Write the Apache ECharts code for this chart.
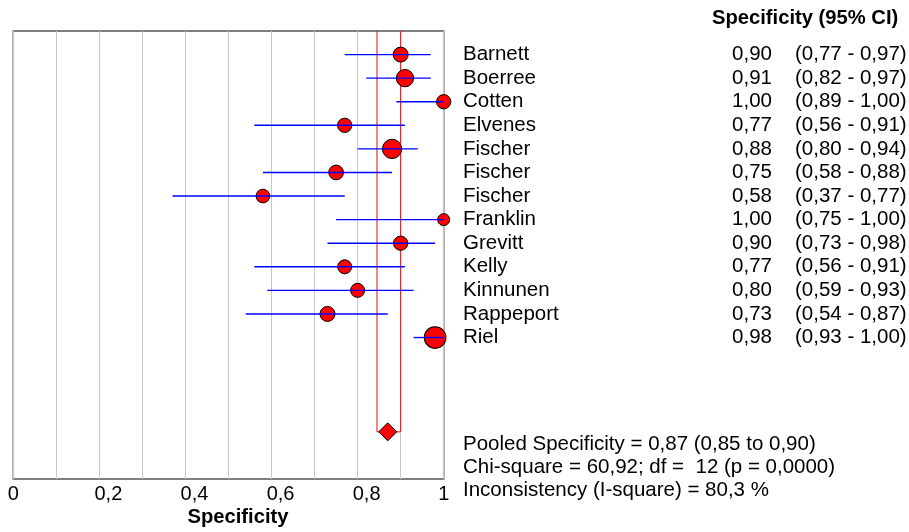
<!DOCTYPE html>
<html>
<head>
<meta charset="utf-8">
<script src="https://cdn.jsdelivr.net/npm/echarts@6/dist/echarts.min.js"></script>
<style>
html,body{margin:0;padding:0;background:#fff;}
#chart{width:909px;height:532px;}
</style>
</head>
<body>
<div id="chart"></div>
<script>
// ---- data ----
var studies = ['Barnett','Boerree','Cotten','Elvenes','Fischer','Fischer','Fischer','Franklin','Grevitt','Kelly','Kinnunen','Rappeport','Riel'];
var specificity = [0.90,0.91,1.00,0.77,0.88,0.75,0.58,1.00,0.90,0.77,0.80,0.73,0.98];
var ciLow  = [0.77,0.82,0.89,0.56,0.80,0.58,0.37,0.75,0.73,0.56,0.59,0.54,0.93];
var ciHigh = [0.97,0.97,1.00,0.91,0.94,0.88,0.77,1.00,0.98,0.91,0.93,0.87,1.00];
var studyWeight = [15,17.3,14.3,14.3,19.3,14.7,13.7,12,14.3,14,14,15,21.7];
var pooled = 0.87, pooledLow = 0.845, pooledHigh = 0.90;
var xTicks = [0,0.2,0.4,0.6,0.8,1];
var footerLines = [
  'Pooled Specificity = 0,87 (0,85 to 0,90)',
  'Chi-square = 60,92; df =  12 (p = 0,0000)',
  'Inconsistency (I-square) = 80,3 %'
];
var headerText = 'Specificity (95% CI)';
var axisTitle = 'Specificity';

// ---- layout helpers ----
var FONT = "'Liberation Sans', Arial, sans-serif";
var FS = 20.5;
var pooledRow = 17;
function rowOf(i){ return i + 1; }
function fmt(v){ return v.toFixed(2).replace('.', ','); }

var chart = echarts.init(document.getElementById('chart'), null, {renderer:'canvas'});

var ciData = studies.map(function(s,i){ return [ciLow[i], ciHigh[i], rowOf(i)]; });
var ptData = studies.map(function(s,i){ return [specificity[i], rowOf(i), studyWeight[i]]; });

var option = {
  animation: false,
  backgroundColor: '#fff',
  grid: {left: 13.3, right: 465.3, top: 31, bottom: 53, show: true, borderColor: '#555', borderWidth: 1.5, backgroundColor: 'transparent', z: 0},
  xAxis: {
    type: 'value', min: 0, max: 1, interval: 0.2,
    axisLine: {show: false}, axisTick: {show: false},
    splitLine: {show: true, lineStyle: {color: '#c8c8c8', width: 1}},
    minorTick: {show: false, splitNumber: 2},
    minorSplitLine: {show: true, lineStyle: {color: '#c8c8c8', width: 1}},
    axisLabel: {
      color: '#000', fontFamily: FONT, fontSize: 20, margin: 5,
      formatter: function(v){
        var r = Math.round(v*10)/10;
        if (xTicks.indexOf(r) < 0) return '';
        if (r === 0) return '0';
        if (r === 1) return '1';
        return '{s|' + r.toFixed(1).replace('.', ',') + '}';
      },
      rich: {s: {fontFamily: FONT, fontSize: 20, color: '#000', padding: [0, 0, 0, 18]}}
    }
  },
  yAxis: {type: 'value', min: 0, max: 19, inverse: true, show: false, splitLine: {show: false}},
  series: [
    {
      type: 'line', z: 2, symbol: 'none', silent: true,
      lineStyle: {color: '#e01010', width: 1},
      data: [[pooledLow, 0], [pooledLow, pooledRow], [pooledHigh, pooledRow], [pooledHigh, 0]]
    },
    {
      type: 'scatter', z: 3, symbol: 'circle',
      symbolSize: function(d){ return d[2]; },
      itemStyle: {color: '#ff0000', borderColor: '#000', borderWidth: 1, opacity: 1},
      data: ptData
    },
    {
      type: 'custom', z: 4,
      renderItem: function(params, api){
        var a = api.coord([api.value(0), api.value(2)]);
        var b = api.coord([api.value(1), api.value(2)]);
        return {type: 'line', shape: {x1: a[0], y1: a[1], x2: b[0], y2: b[1]}, style: {stroke: '#0000ff', lineWidth: 1.4}};
      },
      encode: {x: [0, 1], y: 2},
      data: ciData
    },
    {
      type: 'scatter', z: 5, symbol: 'diamond', symbolSize: [18, 18],
      itemStyle: {color: '#ff0000', borderColor: '#000', borderWidth: 1, opacity: 1},
      data: [[pooled, pooledRow]]
    }
  ]
};
chart.setOption(option);

// ---- right-hand text table ----
var g = [];
function yPix(r){ return chart.convertToPixel({gridIndex: 0}, [0, r])[1]; }
g.push({type: 'text', x: 712, y: 18, style: {text: headerText, fontFamily: FONT, fontSize: 20.2, fontWeight: 'bold', fill: '#000', textVerticalAlign: 'middle', textAlign: 'left'}});
studies.forEach(function(s, i){
  var y = yPix(rowOf(i));
  g.push({type: 'text', x: 463, y: y, style: {text: s, fontFamily: FONT, fontSize: FS, fill: '#000', textVerticalAlign: 'middle', textAlign: 'left'}});
  g.push({type: 'text', x: 772, y: y, style: {text: fmt(specificity[i]), fontFamily: FONT, fontSize: FS, fill: '#000', textVerticalAlign: 'middle', textAlign: 'right'}});
  g.push({type: 'text', x: 795, y: y, style: {text: '(' + fmt(ciLow[i]) + ' - ' + fmt(ciHigh[i]) + ')', fontFamily: FONT, fontSize: FS, fill: '#000', textVerticalAlign: 'middle', textAlign: 'left'}});
});
footerLines.forEach(function(t, k){
  g.push({type: 'text', x: 463, y: 444 + k*23.3, style: {text: t, fontFamily: FONT, fontSize: FS, fill: '#000', textVerticalAlign: 'middle', textAlign: 'left'}});
});
g.push({type: 'text', x: 238, y: 517, style: {text: axisTitle, fontFamily: FONT, fontSize: 20.2, fontWeight: 'bold', fill: '#000', textVerticalAlign: 'middle', textAlign: 'center'}});
chart.setOption({graphic: g});
</script>
</body>
</html>
